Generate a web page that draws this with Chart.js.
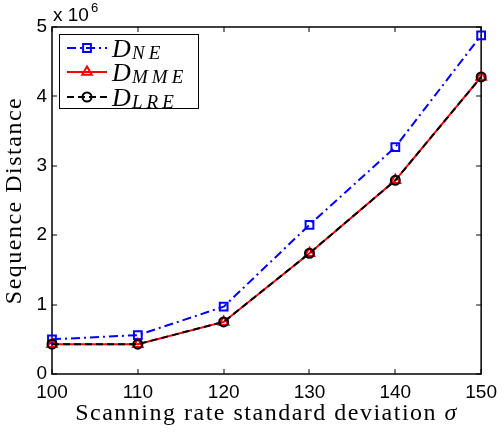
<!DOCTYPE html>
<html>
<head>
<meta charset="utf-8">
<script src="https://cdn.jsdelivr.net/npm/chart.js@4/dist/chart.umd.min.js"></script>
<style>
  html, body { margin: 0; padding: 0; background: #fff; }
</style>
</head>
<body>
<canvas id="distanceChart" width="504" height="433"></canvas>
<script>
// Données : écart-type du taux de balayage et distances de séquence
const sigmaValues = [100, 110, 120, 130, 140, 150];
const distNE = [0.50e6, 0.56e6, 0.97e6, 2.15e6, 3.27e6, 4.88e6];
const distMME = [0.43e6, 0.43e6, 0.75e6, 1.74e6, 2.79e6, 4.28e6];
const distLRE = [0.43e6, 0.43e6, 0.75e6, 1.74e6, 2.79e6, 4.28e6];
const legendSubs = ["NE", "MME", "LRE"];
const yScaleFactor = 1e6;

const sansFont = "'Liberation Sans', Arial, Helvetica, sans-serif";
const serifFont = "'Liberation Serif', 'Times New Roman', serif";

function toPoints(values) {
  return values.map((v, i) => ({ x: sigmaValues[i], y: v }));
}

// Cadre, graduations internes, titres des axes et légende avec indices
const axesDecor = {
  id: "axesDecor",
  beforeDatasetsDraw(chart) {
    const { ctx, chartArea: a, scales } = chart;
    ctx.save();
    ctx.strokeStyle = "#000";
    ctx.lineWidth = 1.5;
    ctx.strokeRect(a.left, a.top, a.right - a.left, a.bottom - a.top);
    const tick = 5;
    ctx.beginPath();
    scales.x.ticks.forEach((t) => {
      const px = Math.round(scales.x.getPixelForValue(t.value));
      ctx.moveTo(px, a.bottom); ctx.lineTo(px, a.bottom - tick);
      ctx.moveTo(px, a.top); ctx.lineTo(px, a.top + tick);
    });
    scales.y.ticks.forEach((t) => {
      const py = Math.round(scales.y.getPixelForValue(t.value));
      ctx.moveTo(a.left, py); ctx.lineTo(a.left + tick, py);
      ctx.moveTo(a.right, py); ctx.lineTo(a.right - tick, py);
    });
    ctx.lineWidth = 1;
    ctx.stroke();
    ctx.restore();
  },
  afterDraw(chart) {
    const { ctx, chartArea: a } = chart;
    ctx.save();
    ctx.fillStyle = "#000";

    // multiplicateur de l'axe y
    ctx.textBaseline = "alphabetic";
    ctx.textAlign = "left";
    ctx.font = "19px " + sansFont;
    ctx.fillText("x 10", a.left + 1, 21);
    ctx.font = "13px " + sansFont;
    ctx.fillText("6", a.left + 39, 12);

    // titre de l'axe x (sigma en italique)
    ctx.letterSpacing = "1.5px";
    ctx.font = "24px " + serifFont;
    const mainText = "Scanning rate standard deviation ";
    const mainW = ctx.measureText(mainText).width;
    ctx.font = "italic 24px " + serifFont;
    const sigmaW = ctx.measureText("\u03c3").width;
    let tx = (a.left + a.right) / 2 - (mainW + sigmaW) / 2;
    ctx.font = "24px " + serifFont;
    ctx.fillText(mainText, tx, 420);
    ctx.font = "italic 24px " + serifFont;
    ctx.fillText("\u03c3", tx + mainW, 420);

    // titre de l'axe y
    ctx.font = "24px " + serifFont;
    ctx.textAlign = "center";
    ctx.textBaseline = "middle";
    ctx.save();
    ctx.translate(15, (a.top + a.bottom) / 2);
    ctx.rotate(-Math.PI / 2);
    ctx.fillText("Sequence Distance", 0, 0);
    ctx.restore();
    ctx.letterSpacing = "0px";

    // légende
    const box = { x: 59.5, y: 34.5, w: 139, h: 74 };
    ctx.fillStyle = "#fff";
    ctx.fillRect(box.x, box.y, box.w, box.h);
    ctx.strokeStyle = "#000";
    ctx.lineWidth = 1;
    ctx.strokeRect(box.x, box.y, box.w, box.h);
    const rowsY = [48, 72, 97];
    chart.data.datasets.forEach((ds) => {
      const row = ds.legendRow;
      const y = rowsY[row];
      ctx.strokeStyle = ds.borderColor;
      ctx.lineWidth = ds.borderWidth;
      ctx.setLineDash(ds.borderDash || []);
      ctx.beginPath();
      ctx.moveTo(67, y);
      ctx.lineTo(107, y);
      ctx.stroke();
      ctx.setLineDash([]);
      ctx.fillStyle = "rgba(0,0,0,0)";
      ctx.lineWidth = ds.pointBorderWidth;
      Chart.helpers.drawPoint(ctx, {
        pointStyle: ds.pointStyle,
        radius: ds.pointRadius,
        rotation: 0,
        borderWidth: ds.pointBorderWidth
      }, 87, y);

      ctx.fillStyle = "#000";
      ctx.textAlign = "left";
      ctx.textBaseline = "alphabetic";
      ctx.font = "italic 26px " + serifFont;
      ctx.fillText("D", 112, y + 9);
      ctx.font = "italic 19px " + serifFont;
      ctx.letterSpacing = "4px";
      ctx.fillText(legendSubs[row], 132, y + 11);
      ctx.letterSpacing = "0px";
    });
    ctx.restore();
  }
};

const ctx = document.getElementById("distanceChart").getContext("2d");
new Chart(ctx, {
  type: "line",
  data: {
    datasets: [
      {
        label: "D_LRE",
        legendRow: 2,
        data: toPoints(distLRE),
        borderColor: "#000000",
        borderWidth: 2,
        borderDash: [7, 4],
        pointStyle: "circle",
        pointRadius: 4.5,
        pointBorderWidth: 2,
        pointBorderColor: "#000000",
        pointBackgroundColor: "rgba(0,0,0,0)",
        order: 0,
        clip: false
      },
      {
        label: "D_MME",
        legendRow: 1,
        data: toPoints(distMME),
        borderColor: "#ff0000",
        borderWidth: 2,
        pointStyle: "triangle",
        pointRadius: 5.5,
        pointBorderWidth: 2,
        pointBorderColor: "#ff0000",
        pointBackgroundColor: "rgba(0,0,0,0)",
        order: 1,
        clip: false
      },
      {
        label: "D_NE",
        legendRow: 0,
        data: toPoints(distNE),
        borderColor: "#0000ff",
        borderWidth: 2,
        borderDash: [9, 4, 2, 4],
        pointStyle: "rect",
        pointRadius: 5.5,
        pointBorderWidth: 2,
        pointBorderColor: "#0000ff",
        pointBackgroundColor: "rgba(0,0,0,0)",
        order: 2,
        clip: false
      }
    ]
  },
  options: {
    responsive: false,
    animation: false,
    devicePixelRatio: 1,
    layout: { padding: { top: 27, right: 17, left: 0, bottom: 0 } },
    plugins: { legend: { display: false }, tooltip: { enabled: false } },
    scales: {
      x: {
        type: "linear",
        min: 100,
        max: 150,
        ticks: {
          stepSize: 10,
          color: "#000",
          padding: 7,
          font: { family: sansFont, size: 19 }
        },
        grid: { display: false, drawTicks: false },
        border: { display: false },
        afterFit: (scale) => { scale.height = 59; }
      },
      y: {
        min: 0,
        max: 5e6,
        ticks: {
          stepSize: 1e6,
          color: "#000",
          padding: 5,
          font: { family: sansFont, size: 19 },
          callback: (value) => value / yScaleFactor
        },
        grid: { display: false, drawTicks: false },
        border: { display: false },
        afterFit: (scale) => { scale.width = 52; }
      }
    }
  },
  plugins: [axesDecor]
});
</script>
</body>
</html>
